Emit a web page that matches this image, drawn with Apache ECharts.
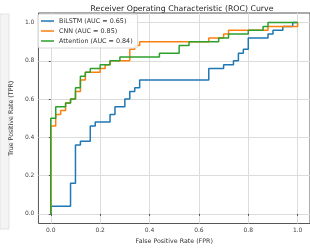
<!DOCTYPE html>
<html>
<head>
<meta charset="utf-8">
<script src="https://cdn.jsdelivr.net/npm/echarts@6/dist/echarts.min.js"></script>
<style>
  html, body { margin: 0; padding: 0; background: #fff; }
  #chart { width: 310px; height: 250px; }
</style>
</head>
<body>
<div id="chart"></div>
<script>
const ticks = [0, 0.2, 0.4, 0.6, 0.8, 1.0]

const bilstmFpr = [0, 0, 0.08, 0.08, 0.10, 0.10, 0.12, 0.12, 0.16, 0.16, 0.18, 0.18, 0.24, 0.24, 0.26, 0.26, 0.30, 0.30, 0.32, 0.32, 0.34, 0.34, 0.36, 0.36, 0.64, 0.64, 0.70, 0.70, 0.74, 0.74, 0.76, 0.76, 0.78, 0.78, 0.80, 0.80, 0.88, 0.88, 0.90, 0.90, 0.94, 0.94, 0.98, 0.98, 1.0]
const bilstmTpr = [0, 0.04, 0.04, 0.16, 0.16, 0.36, 0.36, 0.38, 0.38, 0.46, 0.46, 0.48, 0.48, 0.52, 0.52, 0.56, 0.56, 0.60, 0.60, 0.64, 0.64, 0.66, 0.66, 0.70, 0.70, 0.76, 0.76, 0.78, 0.78, 0.80, 0.80, 0.84, 0.84, 0.86, 0.86, 0.92, 0.92, 0.94, 0.94, 0.96, 0.96, 0.98, 0.98, 1.0, 1.0]

const cnnFpr = [0, 0, 0.02, 0.02, 0.04, 0.04, 0.06, 0.06, 0.08, 0.08, 0.10, 0.10, 0.12, 0.12, 0.14, 0.14, 0.20, 0.20, 0.22, 0.22, 0.24, 0.24, 0.32, 0.32, 0.34, 0.34, 0.36, 0.36, 0.64, 0.64, 0.70, 0.70, 0.72, 0.72, 0.88, 0.88, 1.0, 1.0]
const cnnTpr = [0, 0.46, 0.46, 0.52, 0.52, 0.54, 0.54, 0.58, 0.58, 0.60, 0.60, 0.64, 0.64, 0.70, 0.70, 0.74, 0.74, 0.76, 0.76, 0.78, 0.78, 0.80, 0.80, 0.86, 0.86, 0.88, 0.88, 0.90, 0.90, 0.92, 0.92, 0.94, 0.94, 0.96, 0.96, 0.98, 0.98, 1.0]

const attnFpr = [0, 0, 0.02, 0.02, 0.06, 0.06, 0.08, 0.08, 0.10, 0.10, 0.12, 0.12, 0.14, 0.14, 0.16, 0.16, 0.20, 0.20, 0.24, 0.24, 0.28, 0.28, 0.44, 0.44, 0.52, 0.52, 0.56, 0.56, 0.68, 0.68, 0.72, 0.72, 0.80, 0.80, 0.86, 0.86, 0.88, 0.88, 1.0]
const attnTpr = [0, 0.50, 0.50, 0.56, 0.56, 0.58, 0.58, 0.60, 0.60, 0.66, 0.66, 0.72, 0.72, 0.74, 0.74, 0.76, 0.76, 0.78, 0.78, 0.80, 0.80, 0.82, 0.82, 0.84, 0.84, 0.88, 0.88, 0.90, 0.90, 0.92, 0.92, 0.94, 0.94, 0.96, 0.96, 0.98, 0.98, 1.0, 1.0]

const names = ['BiLSTM (AUC = 0.65)', 'CNN (AUC = 0.85)', 'Attention (AUC = 0.84)']
const colors = ['#1f77b4', '#ff7f0e', '#2ca02c']

const zip = (xs, ys) => xs.map((x, i) => [x, ys[i]])
const curves = [zip(bilstmFpr, bilstmTpr), zip(cnnFpr, cnnTpr), zip(attnFpr, attnTpr)]

const font = 'DejaVu Sans'
const chart = echarts.init(document.getElementById('chart'))

const axisCommon = {
  type: 'value',
  min: -0.05,
  max: 1.05,
  axisLine: { show: false },
  axisTick: { show: true, length: 2, customValues: ticks, lineStyle: { color: '#555', width: 1 } },
  axisLabel: {
    customValues: ticks,
    formatter: (v) => v.toFixed(1),
    fontFamily: font,
    fontSize: 6,
    color: '#444'
  },
  splitLine: { show: true, lineStyle: { color: '#dcdcdc', width: 1 } },
  nameLocation: 'middle',
  nameTextStyle: { fontFamily: font, fontSize: 6.3, color: '#333' }
}

chart.setOption({
  animation: false,
  title: {
    text: 'Receiver Operating Characteristic (ROC) Curve',
    left: 177,
    top: 0,
    textAlign: 'center',
    textStyle: { fontFamily: font, fontSize: 7.8, fontWeight: 'normal', color: '#222' }
  },
  grid: {
    left: 35,
    top: 13,
    width: 284,
    height: 210.5,
    show: true,
    borderColor: '#555',
    borderWidth: 1,
    backgroundColor: 'transparent'
  },
  legend: {
    orient: 'vertical',
    left: 38,
    top: 14,
    icon: 'rect',
    itemWidth: 13,
    itemHeight: 1.5,
    itemGap: 2,
    padding: [3, 5, 3, 3],
    backgroundColor: 'rgba(255,255,255,0.85)',
    borderColor: '#d0d0d0',
    borderWidth: 0.8,
    borderRadius: 2,
    textStyle: { fontFamily: font, fontSize: 6.4, color: '#333', lineHeight: 8 },
    data: names
  },
  xAxis: Object.assign({}, axisCommon, {
    name: 'False Positive Rate (FPR)',
    nameGap: 13,
    axisLabel: Object.assign({}, axisCommon.axisLabel, { margin: 4 })
  }),
  yAxis: Object.assign({}, axisCommon, {
    name: 'True Positive Rate (TPR)',
    nameGap: 16,
    axisLabel: Object.assign({}, axisCommon.axisLabel, { margin: 4 })
  }),
  graphic: [{
    type: 'rect',
    shape: { x: 0, y: 14, width: 9, height: 215 },
    style: { fill: '#f4f4f4', stroke: '#e2e2e2', lineWidth: 1 },
    z: -1
  }],
  series: curves.map((data, i) => ({
    type: 'line',
    name: names[i],
    data: data,
    symbol: 'none',
    color: colors[i],
    lineStyle: { width: 1.5, color: colors[i] },
    z: 2 + i
  }))
})
</script>
</body>
</html>
